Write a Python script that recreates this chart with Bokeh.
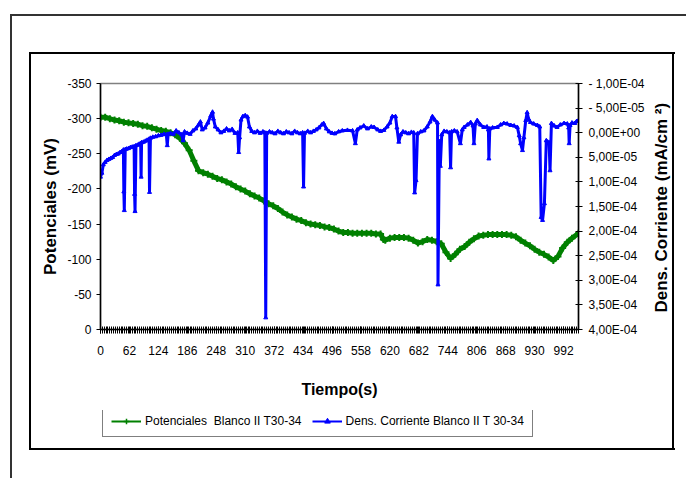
import math
from bokeh.plotting import figure
from bokeh.layouts import column, row
from bokeh.models import (Range1d, LinearAxis, FixedTicker, CustomJSTickFormatter,
                          Legend, LegendItem, ColumnDataSource, Label)
from bokeh.embed import file_html
from bokeh.resources import INLINE

# ---------------- data ----------------
t_pot = [0, 10, 20, 30, 40, 50, 60, 70, 80, 90, 100, 110, 120, 130, 140, 150, 160, 170,
         180, 190, 200, 210, 220, 230, 240, 250, 260, 270, 280, 290, 300, 310, 320, 330,
         340, 350, 360, 370, 380, 390, 400, 410, 420, 430, 440, 450, 460, 470, 480, 490,
         500, 510, 520, 530, 540, 550, 560, 570, 580, 590, 600, 606, 610, 620, 630, 640,
         650, 660, 670, 680, 690, 700, 710, 720, 730, 740, 750, 760, 770, 780, 790, 800,
         810, 820, 830, 840, 850, 860, 870, 880, 890, 900, 910, 920, 930, 940, 950, 960,
         970, 980, 990, 1000, 1010, 1024]
potencial = [-302, -302, -300, -298, -297, -295, -294, -293, -292, -290, -289, -287, -285,
             -283, -282, -280, -277, -272, -265, -255, -240, -226, -223, -221, -218, -215,
             -213, -210, -207, -203, -200, -197, -193, -190, -187, -183, -179, -176, -172,
             -167, -163, -160, -157, -155, -152, -150, -149, -148, -146, -145, -143, -140,
             -138, -138, -137, -137, -137, -137, -137, -136, -136, -128, -127, -130, -131,
             -131, -131, -130, -127, -123, -125, -128, -127, -125, -122, -110, -101, -107,
             -114, -118, -124, -129, -133, -134, -135, -135, -135, -135, -135, -134, -132,
             -127, -123, -119, -114, -110, -107, -103, -98, -104, -116, -124, -130, -137]

t_cur = [0, 3, 6, 10, 14, 18, 22, 26, 30, 34, 38, 42, 46, 49, 50, 51, 53, 56, 60, 64, 68,
         72, 73, 74, 76, 80, 83, 86, 87, 88, 92, 96, 100, 104, 105, 107, 112, 118, 124, 130,
         136, 141, 143, 145, 150, 156, 162, 168, 174, 177, 180, 186, 192, 198, 204, 210,
         214, 218, 224, 230, 236, 240, 242, 246, 252, 258, 264, 270, 276, 282, 288, 294,
         296, 298, 301, 305, 310, 315, 319, 324, 330, 336, 342, 348, 352, 354, 356, 362,
         368, 374, 380, 386, 392, 398, 404, 410, 416, 422, 428, 433, 435, 437, 444, 450,
         456, 462, 468, 474, 478, 484, 490, 496, 502, 510, 518, 529, 540, 546, 550, 556,
         564, 572, 580, 586, 594, 600, 607, 614, 620, 625, 632, 635, 639, 643, 648, 654,
         660, 666, 671, 673, 676, 679, 686, 693, 700, 706, 711, 716, 722, 723, 726, 728,
         731, 736, 742, 748, 750, 752, 758, 764, 771, 775, 779, 786, 793, 798, 800, 803,
         807, 814, 821, 828, 831, 832, 834, 840, 850, 857, 864, 871, 879, 886, 893, 897,
         900, 904, 907, 911, 914, 917, 921, 928, 936, 941, 944, 947, 951, 955, 958, 961,
         963, 966, 972, 978, 985, 993, 1000, 1003, 1004, 1006, 1010, 1016, 1020, 1024]
corriente = [9.0e-5, 8.2e-5, 6.5e-5, 6.0e-5, 5.6e-5, 5.4e-5, 5.2e-5, 5.0e-5, 4.6e-5, 4.4e-5,
             4.3e-5, 4.0e-5, 3.8e-5, 3.5e-5, 1.2e-4, 1.58e-4, 3.4e-5, 3.3e-5, 3.2e-5, 3.0e-5,
             2.9e-5, 2.8e-5, 1.25e-4, 1.6e-4, 2.6e-5, 2.5e-5, 2.3e-5, 2.2e-5, 9.0e-5, 2.0e-5,
             1.9e-5, 1.7e-5, 1.5e-5, 1.3e-5, 1.21e-4, 1.1e-5, 9e-6, 8e-6, 6e-6, 5e-6, 3e-6,
             4e-6, 2.6e-5, 3e-6, 1e-6, 3e-6, -4e-6, 0.0, 4e-6, 1.6e-5, -2e-6, 1e-6, 3e-6,
             -4e-6, -8e-6, -1.6e-5, -2.2e-5, -6e-6, -1.0e-5, -2.0e-5, -3.4e-5, -4.2e-5,
             -2.8e-5, -1.2e-5, -6e-6, 0.0, -3e-6, -8e-6, -4e-6, -7e-6, 1e-6, 0.0, 4.0e-5,
             1.0e-5, -2.6e-5, -3.3e-5, -3.5e-5, -3.2e-5, -1.2e-5, -3e-6, 0.0, -3e-6, 1e-6,
             -2e-6, 0.0, 3.76e-4, 1e-6, -2e-6, 0.0, 2e-6, -3e-6, 0.0, 2e-6, -2e-6, 0.0, 2e-6,
             -3e-6, 0.0, 2e-6, 0.0, 1.1e-4, 1e-6, -3e-6, 0.0, -3e-6, -6e-6, -1.0e-5, -1.6e-5,
             -1.9e-5, -8e-6, -2e-6, 1e-6, 2e-6, -2e-6, -4e-6, -5e-6, -4e-6, 2.2e-5, -6e-6,
             -1.0e-5, -1.4e-5, -8e-6, -1.2e-5, -1.1e-5, -6e-6, -3e-6, -5e-6, -1.2e-5, -2.0e-5,
             -3.3e-5, -3.3e-5, -1.0e-5, 1.9e-5, 4e-6, -2e-6, 0.0, 2e-6, -1e-6, 0.0, 1.22e-4,
             9.7e-5, 2e-6, -2e-6, -4e-6, -1.2e-5, -2.2e-5, -3.3e-5, -2.6e-5, -2.0e-5, 3.09e-4,
             1.8e-5, 6.8e-5, 4e-6, -3e-6, -2e-6, 0.0, 7.1e-5, -2e-6, -4e-6, -2e-6, 2.2e-5,
             -6e-6, -1.1e-5, -1.6e-5, -2.1e-5, -1.4e-5, 2.2e-5, -1.8e-5, -2.5e-5, -1.6e-5,
             -1.1e-5, -1.2e-5, -6e-6, 5.3e-5, -8e-6, -1.0e-5, -1.1e-5, -1.6e-5, -1.9e-5,
             -1.8e-5, -1.5e-5, -1.4e-5, -1.1e-5, 6e-6, 2.2e-5, 3.6e-5, 1.0e-5, -2.5e-5,
             -4.1e-5, -2.8e-5, -2.1e-5, -1.8e-5, -1.5e-5, -1.2e-5, 1.72e-4, 1.78e-4, 1.44e-4,
             1.6e-5, 1.9e-5, 2.0e-5, 7.7e-5, -1.9e-5, -1.4e-5, -1.1e-5, -1.6e-5, -1.9e-5,
             -1.8e-5, -1.0e-5, 2.2e-5, -1.5e-5, -2.0e-5, -1.9e-5, -2.3e-5, -2.5e-5]

x_ticks = [0, 62, 124, 186, 248, 310, 372, 434, 496, 558, 620, 682, 744, 806, 868, 930, 992]
left_ticks = [-350, -300, -250, -200, -150, -100, -50, 0]
left_labels = ["-350", "-300", "-250", "-200", "-150", "-100", "-50", "0"]
right_ticks = [-1.0e-4, -5.0e-5, 0.0, 5.0e-5, 1.0e-4, 1.5e-4, 2.0e-4, 2.5e-4, 3.0e-4,
               3.5e-4, 4.0e-4]
right_labels = ["- 1,00E-04", "- 5,00E-05", "0,00E+00", "5,00E-05", "1,00E-04", "1,50E-04",
                "2,00E-04", "2,50E-04", "3,00E-04", "3,50E-04", "4,00E-04"]

label_pot = "Potenciales  Blanco II T30-34"
label_cur = "Dens. Corriente Blanco II T 30-34"
right_title = "Dens. Corriente (mA/cm \u00b2)"

FONT = "Liberation Sans"
GREEN = "#008000"
BLUE = "#0000FF"

LOOKUP = """
let best = 0; let bd = Infinity;
for (let i = 0; i < vals.length; i++) {
  const d = Math.abs(vals[i] - tick);
  if (d < bd) { bd = d; best = i; }
}
return labs[best];
"""

# chart-area frame lines drawn as CSS backgrounds on the page element
frame_css = {
    "background-image": ", ".join(["linear-gradient(#333333, #333333)"] * 2 +
                                  ["linear-gradient(#000000, #000000)"] * 4),
    "background-size": "2px 470px, 680px 2px, 2px 398px, 2px 398px, 646px 2px, 646px 2px",
    "background-position": "10px 14px, 10px 14px, 29px 52px, 672px 52px, 29px 52px, 29px 448px",
    "background-repeat": "no-repeat",
    "background-color": "white",
}

# ---------------- main figure ----------------
p = figure(width=648, height=410, output_backend="svg", toolbar_location=None,
           x_range=Range1d(0, 1024), y_range=Range1d(0, -350),
           min_border_left=100, min_border_right=70, min_border_top=83,
           min_border_bottom=81, title=None)
p.background_fill_color = "white"
p.border_fill_color = None
p.outline_line_color = "#808080"
p.outline_line_width = 1.5
p.xgrid.visible = False
p.ygrid.visible = False

p.extra_y_ranges = {"cur": Range1d(start=4.0e-4, end=-1.0e-4)}

ya = p.yaxis[0]
ya.ticker = FixedTicker(ticks=left_ticks, minor_ticks=[])
ya.formatter = CustomJSTickFormatter(args=dict(vals=left_ticks, labs=left_labels), code=LOOKUP)
ya.axis_label = "Potenciales (mV)"
ya.axis_label_text_font = FONT
ya.axis_label_text_font_style = "bold"
ya.axis_label_text_font_size = "17px"
ya.axis_label_text_color = "black"
ya.axis_label_standoff = 4
ya.major_label_text_font = FONT
ya.major_label_text_font_size = "12px"
ya.major_label_text_color = "black"
ya.major_label_standoff = 5
ya.major_tick_in = 0
ya.major_tick_out = 4
ya.axis_line_width = 1.5

xa = p.xaxis[0]
xa.ticker = FixedTicker(ticks=x_ticks, minor_ticks=list(range(0, 1025, 4)))
xa.axis_label = "Tiempo(s)"
xa.axis_label_text_font = FONT
xa.axis_label_text_font_style = "bold"
xa.axis_label_text_font_size = "16px"
xa.axis_label_text_color = "black"
xa.axis_label_standoff = 23
xa.major_label_text_font = FONT
xa.major_label_text_font_size = "12px"
xa.major_label_text_color = "black"
xa.major_label_standoff = 12
xa.major_tick_in = 3
xa.major_tick_out = 4
xa.minor_tick_in = 3
xa.minor_tick_out = 4
xa.minor_tick_line_color = "black"
xa.axis_line_width = 1.5

ra = LinearAxis(y_range_name="cur")
ra.ticker = FixedTicker(ticks=right_ticks, minor_ticks=[])
ra.formatter = CustomJSTickFormatter(args=dict(vals=right_ticks, labs=right_labels), code=LOOKUP)
ra.major_label_text_font = FONT
ra.major_label_text_font_size = "12px"
ra.major_label_text_color = "black"
ra.major_label_standoff = 6
ra.major_tick_in = 3
ra.major_tick_out = 4
ra.axis_line_width = 1.5
p.add_layout(ra, "right")

src_p = ColumnDataSource(dict(t=t_pot, v=potencial))
src_c = ColumnDataSource(dict(t=t_cur, v=corriente))
p.line("t", "v", source=src_p, color=GREEN, line_width=5)
p.scatter("t", "v", source=src_p, marker="cross", size=7, line_width=2, color=GREEN)
p.line("t", "v", source=src_c, color=BLUE, line_width=3, y_range_name="cur")
p.scatter("t", "v", source=src_c, marker="triangle", size=4, color=BLUE, y_range_name="cur")

# ---------------- right strip: rotated axis title ----------------
r = figure(width=38, height=410, output_backend="svg", toolbar_location=None,
           x_range=Range1d(0, 38), y_range=Range1d(410, 0),
           x_axis_location=None, y_axis_location=None, title=None, min_border=0)
r.grid.visible = False
r.outline_line_color = None
r.background_fill_color = None
r.border_fill_color = None
r.add_layout(Label(x=13, y=207, text=right_title, angle=math.pi / 2,
                   text_align="center", text_baseline="middle", text_font=FONT,
                   text_font_style="bold", text_font_size="17px", text_color="black"))

# ---------------- bottom strip: legend ----------------
q = figure(width=686, height=68, output_backend="svg", toolbar_location=None,
           x_range=Range1d(0, 686), y_range=Range1d(0, 68),
           x_axis_location=None, y_axis_location=None, title=None, min_border=0)
q.grid.visible = False
q.outline_line_color = None
q.background_fill_color = None
q.border_fill_color = None
off_x = [-500, -400]
off_y = [-500, -500]
lg1 = q.line(x=off_x, y=off_y, color=GREEN, line_width=2)
lg1m = q.scatter(x=off_x, y=off_y, marker="cross", size=8, line_width=1.5, color=GREEN)
lg2 = q.line(x=off_x, y=off_y, color=BLUE, line_width=2)
lg2m = q.scatter(x=off_x, y=off_y, marker="triangle", size=5, color=BLUE)
legend = Legend(items=[LegendItem(label=label_pot, renderers=[lg1, lg1m]),
                       LegendItem(label=label_cur, renderers=[lg2, lg2m])],
                orientation="horizontal", location=(102, 41),
                label_text_font=FONT, label_text_font_size="12px", label_text_color="black",
                glyph_width=30, glyph_height=14, label_standoff=4, spacing=10,
                padding=8, margin=0, border_line_color="black", border_line_width=1,
                background_fill_color="white", background_fill_alpha=1.0)
q.add_layout(legend)

page = column(row(p, r, spacing=0), q, spacing=0, styles=frame_css)
open("out.html", "w").write(file_html(page, INLINE))
